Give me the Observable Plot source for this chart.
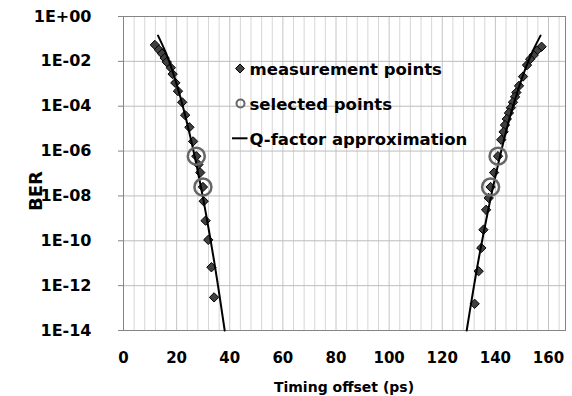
<!DOCTYPE html>
<html><head><meta charset="utf-8">
<script src="https://cdn.jsdelivr.net/npm/d3@7"></script>
<script src="https://cdn.jsdelivr.net/npm/@observablehq/plot@0.6"></script>
<style>
body{margin:0;background:#fff;}
#chart{width:572px;height:396px;}
</style></head><body><div id="chart"></div>
<script>
// ---- data ----
const measLeftX   = [11.8, 13.3, 14.5, 15.5, 16.3, 17.8, 18.5, 19.5, 20.5, 22.1, 23.2, 24.8, 26.2, 27.4, 28.2, 28.9, 29.9, 30.2, 30.9, 31.9, 33.1, 34.1];
const measLeftBER = [5.4e-2, 3.3e-2, 2.2e-2, 1.4e-2, 9.3e-3, 5.2e-3, 2.7e-3, 1.1e-3, 4.7e-4, 1.5e-4, 4.0e-5, 1.15e-5, 2.7e-6, 5.9e-7, 2.5e-7, 1.1e-7, 2.5e-8, 5.8e-9, 7.9e-10, 1.1e-10, 6.6e-12, 3.0e-13];
const measRightX   = [157.4, 155.6, 154.4, 153.1, 151.9, 150.4, 148.9, 147.9, 147.4, 146.6, 145.8, 145.1, 144.3, 143.6, 143.1, 142.2, 141.0, 139.5, 138.2, 137.5, 136.5, 135.5, 134.7, 133.7, 132.2];
const measRightBER = [4.5e-2, 3.0e-2, 1.9e-2, 1.26e-2, 6.8e-3, 2.1e-3, 8.1e-4, 4.1e-4, 2.6e-4, 1.5e-4, 8.5e-5, 5.0e-5, 2.7e-5, 1.45e-5, 7.2e-6, 3.2e-6, 5.9e-7, 1.1e-7, 2.5e-8, 8.1e-9, 2.4e-9, 3.1e-10, 4.8e-11, 4.4e-12, 1.55e-13];

const selX   = [27.4, 29.9, 141.0, 138.2];
const selBER = [5.9e-7, 2.5e-8, 5.9e-7, 2.5e-8];

const qLeftX    = [13, 16, 19, 22, 25, 28, 31, 34, 36, 38.1];
const qRightX   = [157, 153.7, 150.35, 147.0, 143.7, 140.4, 137.05, 133.7, 131.5, 129.2];
const qBER      = [1.4e-1, 2.3e-2, 2.3e-3, 1.4e-4, 5.2e-6, 1.2e-7, 1.7e-9, 1.5e-11, 4.7e-13, 1e-14];

const xTicks = [0, 20, 40, 60, 80, 100, 120, 140, 160];
const yTicks = [1, 1e-2, 1e-4, 1e-6, 1e-8, 1e-10, 1e-12, 1e-14];
const yTickLabels = ["1E+00", "1E-02", "1E-04", "1E-06", "1E-08", "1E-10", "1E-12", "1E-14"];
const legendLabels = ["measurement points", "selected points", "Q-factor approximation"];
const xTitle = "Timing offset (ps)";
const yTitle = "BER";

// ---- tables ----
const meas = [
  ...measLeftX.map((x, i) => ({x, y: measLeftBER[i]})),
  ...measRightX.map((x, i) => ({x, y: measRightBER[i]}))
];
const sel = selX.map((x, i) => ({x, y: selBER[i]}));
const qfit = [
  ...qLeftX.map((x, i) => ({x, y: qBER[i], side: "L"})),
  ...qRightX.map((x, i) => ({x, y: qBER[i], side: "R"}))
];

const FONT = "'DejaVu Sans', sans-serif";
const minorGrid = d3.range(4, 166, 4).filter(v => v % 20 !== 0);
const majorGrid = d3.range(20, 166, 20);

const plot = Plot.plot({
  width: 572, height: 396,
  marginLeft: 123, marginRight: 7, marginTop: 16, marginBottom: 66,
  style: {fontFamily: FONT, background: "white", color: "black"},
  x: {domain: [0, 166.4]},
  y: {type: "log", domain: [1e-14, 1]},
  marks: [
    Plot.ruleX(minorGrid, {stroke: "#d6d6d6", strokeWidth: 1}),
    Plot.ruleX(majorGrid, {stroke: "#c4c4c4", strokeWidth: 1}),
    Plot.ruleY(yTicks.slice(1, -1), {stroke: "#bdbdbd", strokeWidth: 1}),
    Plot.frame({stroke: "#858585"}),
    Plot.axisX({ticks: xTicks, tickSize: 0, tickPadding: 22, fontSize: 15, fontWeight: "bold", label: null, tickFormat: d => String(d)}),
    Plot.axisY({ticks: yTicks, tickSize: 5, tickPadding: 27, fontSize: 16, fontWeight: "bold", label: null, stroke: "#858585",
      tickFormat: d => yTickLabels[yTicks.indexOf(d)]}),
    Plot.dot(meas, {x: "x", y: "y", symbol: "diamond2", r: 4.2, fill: "#404040", stroke: "black", strokeWidth: 1}),
    Plot.line(qfit, {x: "x", y: "y", z: "side", stroke: "black", strokeWidth: 2, curve: "catmull-rom"}),
    Plot.dot(sel, {x: "x", y: "y", r: 8.5, fill: "none", stroke: "#666", strokeWidth: 2.5})
  ]
});

const svg = d3.select(plot);
const g = svg.append("g").attr("font-family", FONT).attr("font-weight", "bold").attr("fill", "black");
g.append("text").attr("transform", "translate(35,191) rotate(-90)").attr("text-anchor", "middle")
  .attr("dominant-baseline", "central").attr("font-size", 18).text(yTitle);
g.append("text").attr("x", 344).attr("y", 387).attr("text-anchor", "middle")
  .attr("dominant-baseline", "central").attr("font-size", 14).text(xTitle);

// legend
const lg = g.append("g");
lg.append("path").attr("transform", "translate(240,68.5)")
  .attr("d", d3.symbol(d3.symbolDiamond2, 52)()).attr("fill", "#404040").attr("stroke", "black").attr("stroke-width", 1);
lg.append("circle").attr("cx", 240.5).attr("cy", 103.5).attr("r", 4).attr("fill", "none").attr("stroke", "#666").attr("stroke-width", 2);
lg.append("line").attr("x1", 232).attr("x2", 247.5).attr("y1", 138.3).attr("y2", 138.3).attr("stroke", "black").attr("stroke-width", 2);
const baselines = [75, 110, 144.5];
legendLabels.forEach((t, i) => {
  lg.append("text").attr("x", 249.5).attr("y", baselines[i]).attr("text-anchor", "start")
    .attr("font-size", 16.5).text(t);
});

document.getElementById("chart").appendChild(plot);
</script>
</body></html>
